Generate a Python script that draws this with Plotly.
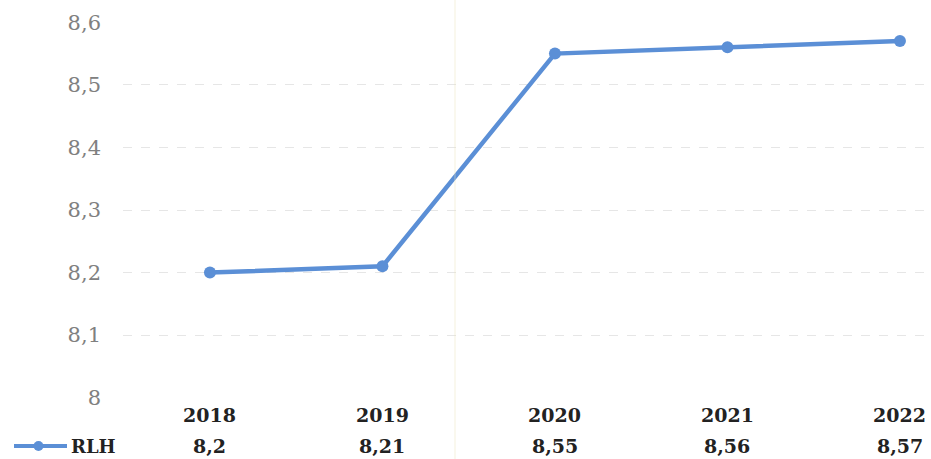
import plotly.graph_objects as go

years = [2018, 2019, 2020, 2021, 2022]
rlh = [8.2, 8.21, 8.55, 8.56, 8.57]
rlh_labels = ["8,2", "8,21", "8,55", "8,56", "8,57"]
series_name = "RLH"
y_ticks = [8.0, 8.1, 8.2, 8.3, 8.4, 8.5, 8.6]
y_tick_text = ["8", "8,1", "8,2", "8,3", "8,4", "8,5", "8,6"]

W, H = 931, 459
color = "#5b8fd6"
serif = "Bookman Old Style, DejaVu Serif, serif"

fig = go.Figure()
fig.add_trace(go.Scatter(
    x=years, y=rlh, mode="lines+markers",
    line=dict(color=color, width=4.5),
    marker=dict(color=color, size=12),
    showlegend=False,
))

x0 = 123 / W
y_bot = 1 - 398 / H
y_top = 1 - 22 / H

annotations = []
for yr, lab in zip(years, rlh_labels):
    annotations.append(dict(x=yr, y=1 - 415 / H, xref="x", yref="paper", text=f"<b>{yr}</b>",
                            showarrow=False, font=dict(family=serif, size=19, color="#222"),
                            xanchor="center", yanchor="middle"))
    annotations.append(dict(x=yr, y=1 - 446 / H, xref="x", yref="paper", text=f"<b>{lab}</b>",
                            showarrow=False, font=dict(family=serif, size=19, color="#222"),
                            xanchor="center", yanchor="middle"))
annotations.append(dict(x=69 / W, y=1 - 446 / H, xref="paper", yref="paper", text=f"<b>{series_name}</b>",
                        showarrow=False, font=dict(family=serif, size=18, color="#222"),
                        xanchor="left", yanchor="middle"))

shapes = [
    dict(type="line", xref="paper", yref="paper", x0=14 / W, x1=67 / W, y0=1 - 446 / H, y1=1 - 446 / H,
         line=dict(color=color, width=4)),
    dict(type="circle", xref="paper", yref="paper", x0=(38.5 - 5) / W, x1=(38.5 + 5) / W,
         y0=1 - (446 + 5) / H, y1=1 - (446 - 5) / H, fillcolor=color, line=dict(color=color, width=0)),
    dict(type="line", xref="paper", yref="paper", x0=455 / W, x1=455 / W, y0=0, y1=1,
         line=dict(color="rgba(235,230,190,0.5)", width=1)),
]

fig.update_layout(
    width=W, height=H,
    margin=dict(l=0, r=0, t=0, b=0),
    paper_bgcolor="white", plot_bgcolor="white",
    xaxis=dict(domain=[x0, 1], range=[2017.496, 2022.18], showticklabels=False, showgrid=False,
               zeroline=False, showline=False, ticks=""),
    yaxis=dict(domain=[y_bot, y_top], range=[7.9995, 8.6005], tickvals=y_ticks, ticktext=y_tick_text,
               showgrid=True, gridcolor="#e6e6e6", griddash="dash", gridwidth=1,
               zeroline=False, showline=False, ticks="", ticklabelstandoff=21,
               tickfont=dict(family=serif, size=21, color="#808080"), automargin=False),
    annotations=annotations,
    shapes=shapes,
)

fig.write_html("out.html", config={"displayModeBar": False},
               post_script="document.body.style.margin='0';document.body.style.overflow='hidden';")
